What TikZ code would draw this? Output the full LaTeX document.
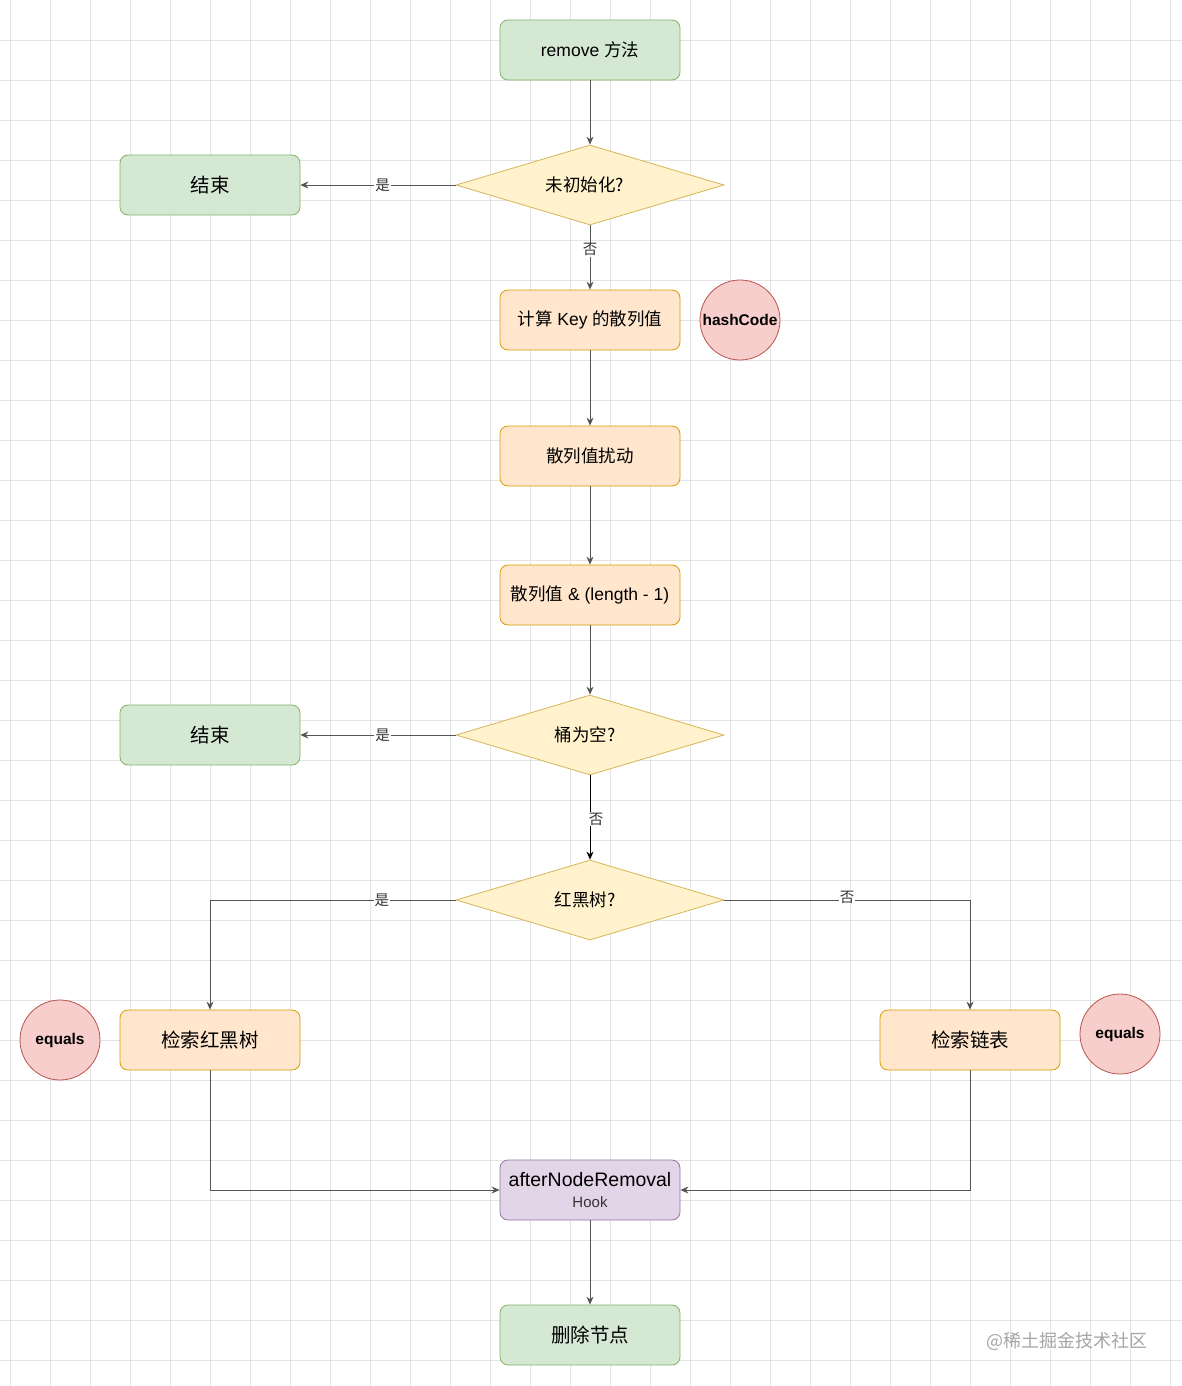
\documentclass[tikz,border=0pt]{standalone}
\usepackage{fontspec}
\setmainfont{Liberation Sans}
\newfontfamily\cjk{Noto Sans CJK SC}
\usetikzlibrary{shapes.geometric,arrows.meta}
\definecolor{gfill}{HTML}{D5E8D4}\definecolor{gline}{HTML}{82B366}
\definecolor{ofill}{HTML}{FFE6CC}\definecolor{oline}{HTML}{D79B00}
\definecolor{yfill}{HTML}{FFF2CC}\definecolor{yline}{HTML}{D6B656}
\definecolor{rfill}{HTML}{F8CECC}\definecolor{rline}{HTML}{B85450}
\definecolor{pfill}{HTML}{E1D5E7}\definecolor{pline}{HTML}{9673A6}
\definecolor{edge}{HTML}{555555}
\definecolor{gridc}{HTML}{E4E4E4}
\tikzset{
  box/.style={rectangle,rounded corners=8pt,minimum width=180pt,minimum height=60pt,inner sep=2pt,font=\fontsize{17.5}{20}\selectfont,line width=0.8pt},
  greenbox/.style={box,fill=gfill,draw=gline},
  orangebox/.style={box,fill=ofill,draw=oline},
  purplebox/.style={box,fill=pfill,draw=pline},
  decision/.style={diamond,aspect=3.35,minimum width=268pt,minimum height=80pt,inner sep=0pt,fill=yfill,draw=yline,line width=0.8pt,font=\fontsize{17}{20}\selectfont},
  bubble/.style={circle,minimum size=80pt,inner sep=0pt,fill=rfill,draw=rline,line width=0.8pt,font=\bfseries\fontsize{15.5}{18}\selectfont},
  conn/.style={draw=edge,line width=0.8pt,-{Stealth[length=8pt,width=7pt]}},
  lbl/.style={fill=white,inner sep=1pt,font=\cjk\fontsize{14.5}{16}\selectfont,text=black!80}
}
\begin{document}
\begin{tikzpicture}[x=1pt,y=-1pt]
\fill[white] (0,0) rectangle (1182,1386);
\useasboundingbox (0,0) rectangle (1182,1386);
\foreach \i in {0,...,29} {\draw[gridc,line width=0.6pt] (10+40*\i,0) -- (10+40*\i,1386);}
\foreach \j in {1,...,34} {\draw[gridc,line width=0.6pt] (0,40*\j) -- (1182,40*\j);}

\node[greenbox] (start) at (590,50) {remove {\cjk 方法}};
\node[decision] (init) at (590,185) {};
\node[font=\cjk\fontsize{17.5}{20}\selectfont] (initt) at (585,185) {未初始化?};
\node[greenbox,font=\cjk\fontsize{19.5}{22}\selectfont] (end1) at (210,185) {结束};
\node[orangebox] (hash) at (590,320) {{\cjk 计算} Key {\cjk 的散列值}};
\node[bubble] (hc) at (740,320) {hashCode};
\node[orangebox,font=\cjk\fontsize{17.5}{20}\selectfont] (mix) at (590,456) {散列值扰动};
\node[orangebox] (idx) at (590,595) {{\cjk 散列值} \& (length - 1)};
\node[decision] (empty) at (590,735) {};
\node[font=\cjk\fontsize{17.5}{20}\selectfont] (emptyt) at (585,735) {桶为空?};
\node[greenbox,font=\cjk\fontsize{19.5}{22}\selectfont] (end2) at (210,735) {结束};
\node[decision] (rb) at (590,900) {};
\node[font=\cjk\fontsize{17.5}{20}\selectfont] (rbt) at (585,900) {红黑树?};
\node[orangebox,font=\cjk\fontsize{19.5}{22}\selectfont] (srb) at (210,1040) {检索红黑树};
\node[bubble] (eq1) at (60,1040) {equals};
\node[orangebox,font=\cjk\fontsize{19.5}{22}\selectfont] (sll) at (970,1040) {检索链表};
\node[bubble] (eq2) at (1120,1034) {equals};
\node[purplebox,align=center] (after) at (590,1190) {{\fontsize{19.5}{22}\selectfont afterNodeRemoval}\\[1pt]{\fontsize{15}{18}\selectfont\color{black!80}Hook}};
\node[greenbox,font=\cjk\fontsize{19.5}{22}\selectfont] (del) at (590,1335) {删除节点};
\node[font=\cjk\fontsize{18}{20}\selectfont,text=black!35] (wm) at (1067,1341) {@稀土掘金技术社区};

\draw[conn] (start) -- (init);
\draw[conn] (init.west) -- node[lbl,pos=0.47] {是} (end1.east);
\draw[conn] (init.south) -- node[lbl,pos=0.38] {否} (hash.north);
\draw[conn] (hash) -- (mix);
\draw[conn] (mix) -- (idx);
\draw[conn] (idx) -- (empty.north);
\draw[conn] (empty.west) -- node[lbl,pos=0.47] {是} (end2.east);
\draw[conn,draw=black] (empty.south) -- node[lbl,pos=0.52,xshift=6pt] {否} (rb.north);
\draw[conn] (rb.west) -| node[lbl,pos=0.15] {是} (srb.north);
\draw[conn] (rb.east) -| node[lbl,pos=0.25,yshift=3pt] {否} (sll.north);
\draw[conn] (srb.south) |- (after.west);
\draw[conn] (sll.south) |- (after.east);
\draw[conn] (after) -- (del);
\end{tikzpicture}
\end{document}
